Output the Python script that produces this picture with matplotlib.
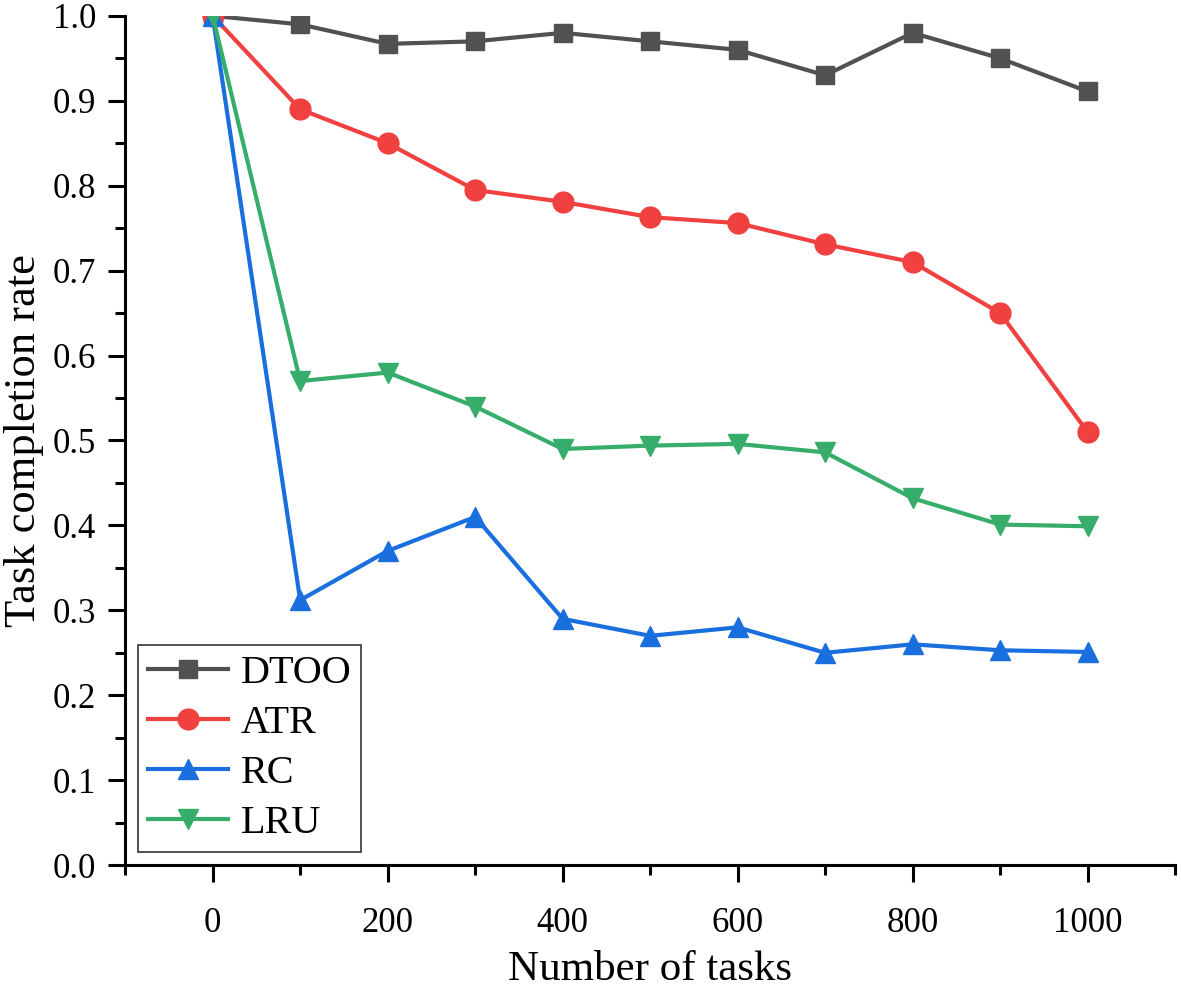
import matplotlib
matplotlib.use("Agg")
import matplotlib.pyplot as plt
from matplotlib.ticker import MultipleLocator

plt.rcParams['font.family'] = ['Liberation Serif', 'DejaVu Serif']

# data
tasks = [0, 100, 200, 300, 400, 500, 600, 700, 800, 900, 1000]
dtoo = [1.0, 0.99, 0.967, 0.97, 0.98, 0.97, 0.96, 0.93, 0.98, 0.95, 0.911]
atr = [1.0, 0.89, 0.85, 0.795, 0.781, 0.763, 0.756, 0.731, 0.71, 0.65, 0.51]
rc = [1.0, 0.312, 0.37, 0.41, 0.29, 0.27, 0.28, 0.25, 0.26, 0.253, 0.251]
lru = [1.0, 0.57, 0.58, 0.54, 0.49, 0.494, 0.496, 0.486, 0.432, 0.401, 0.399]

fig = plt.figure(figsize=(11.81, 9.91), dpi=100)
ax = fig.add_axes([0.106, 0.127, 0.889, 0.857])

ax.plot(tasks, dtoo, color='#515151', lw=3, marker='s', ms=13, label='DTOO')
ax.plot(tasks, atr, color='#F14040', lw=3, marker='o', ms=15, label='ATR')
ax.plot(tasks, rc, color='#1A6FDF', lw=3, marker='^', ms=15, label='RC')
ax.plot(tasks, lru, color='#37AD6B', lw=3, marker='v', ms=15, label='LRU')

ax.set_xlim(-100, 1100)
ax.set_ylim(0, 1.0)
ax.xaxis.set_major_locator(MultipleLocator(200))
ax.xaxis.set_minor_locator(MultipleLocator(100))
ax.yaxis.set_major_locator(MultipleLocator(0.1))
ax.yaxis.set_minor_locator(MultipleLocator(0.05))
ax.yaxis.set_major_formatter(plt.FormatStrFormatter('%.1f'))

for s in ['top', 'right']:
    ax.spines[s].set_visible(False)
for s in ['left', 'bottom']:
    ax.spines[s].set_linewidth(2.2)
ax.tick_params(which='major', length=12, width=2.2, labelsize=25, direction='out')
ax.tick_params(which='minor', length=7, width=2.2, direction='out')
ax.tick_params(axis='x', pad=18)
ax.tick_params(axis='y', pad=9)

ax.set_xlabel('Number of tasks', fontsize=31, labelpad=8)
ax.set_ylabel('Task completion rate', fontsize=32, labelpad=6)

leg = ax.legend(loc='lower left', bbox_to_anchor=(0.012, 0.015), fontsize=29,
                frameon=True, fancybox=False, handlelength=2.0, handletextpad=0.3,
                borderpad=0.25, labelspacing=0.32, borderaxespad=0)
leg.get_frame().set_edgecolor('black')
leg.get_frame().set_linewidth(1.2)

fig.savefig('out.png', dpi=100)
